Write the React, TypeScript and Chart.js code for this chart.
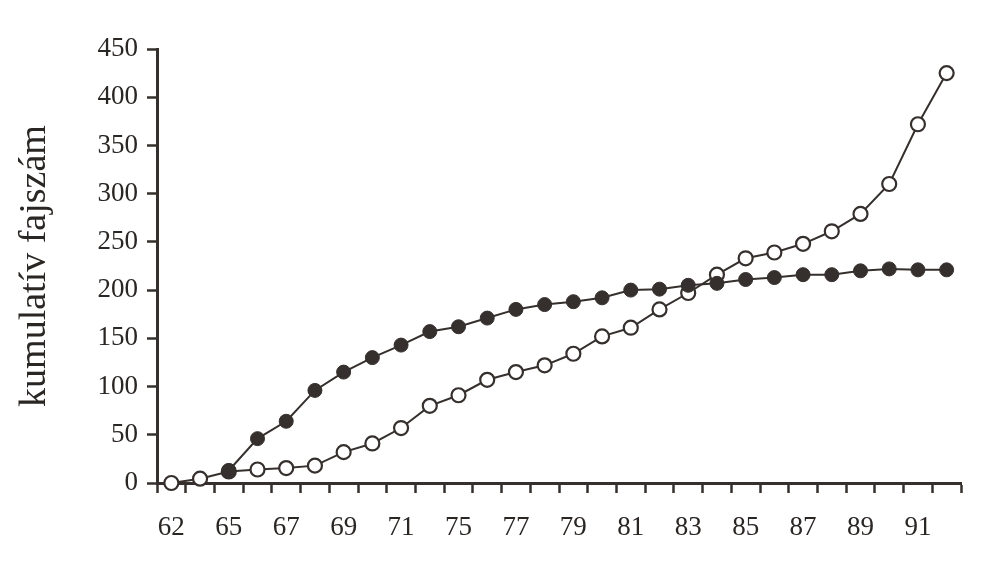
import React, { useEffect, useRef } from "react";
import { Chart, registerables } from "chart.js";

Chart.register(...registerables);

const categories = ["62", "64", "65", "66", "67", "68", "69", "70", "71", "74", "75", "76", "77", "78", "79", "80", "81", "82", "83", "84", "85", "86", "87", "88", "89", "90", "91", "92"];
const filledSeries = [null, null, 13, 46, 64, 96, 115, 130, 143, 157, 162, 171, 180, 185, 188, 192, 200, 201, 205, 207, 211, 213, 216, 216, 220, 222, 221, 221];
const openSeries = [0, 4.5, 12, 14, 15.5, 18, 32, 41, 57, 80, 91, 107, 115, 122, 134, 152, 161, 180, 197, 216, 233, 239, 248, 261, 279, 310, 372, 425];
const yTitle = "kumulatív fajszám";

const INK = "#352f2d";
const TEXT = "#2a2624";
const FONT = "'Liberation Serif', 'DejaVu Serif', serif";

export default function App() {
  const ref = useRef<HTMLCanvasElement | null>(null);

  useEffect(() => {
    document.body.style.margin = "0";
    document.body.style.background = "#ffffff";
    const canvas = ref.current;
    if (!canvas) return;
    const chart = new Chart(canvas, {
      type: "line",
      data: {
        labels: categories,
        datasets: [
          {
            label: "filled",
            data: filledSeries,
            borderColor: INK,
            borderWidth: 2,
            pointRadius: 7,
            pointBackgroundColor: INK,
            pointBorderColor: INK,
            pointBorderWidth: 1,
            tension: 0,
            clip: false,
            spanGaps: false,
          },
          {
            label: "open",
            data: openSeries,
            borderColor: INK,
            borderWidth: 2,
            pointRadius: 7,
            pointBackgroundColor: "#ffffff",
            pointBorderColor: INK,
            pointBorderWidth: 2.2,
            tension: 0,
            clip: false,
          },
        ],
      },
      options: {
        responsive: false,
        animation: false,
        devicePixelRatio: 1,
        layout: { padding: { top: 49, right: 20, left: 0, bottom: 0 } },
        plugins: {
          legend: { display: false },
          tooltip: { enabled: false },
        },
        scales: {
          x: {
            type: "category",
            offset: true,
            border: { display: true, color: INK, width: 3 },
            grid: {
              offset: true,
              drawOnChartArea: false,
              drawTicks: true,
              tickLength: 10,
              tickWidth: 2.5,
              tickColor: INK,
            },
            ticks: {
              autoSkip: false,
              maxRotation: 0,
              minRotation: 0,
              padding: 19,
              color: TEXT,
              font: { family: FONT, size: 27 },
              callback: (_v: any, i: number) => (i % 2 === 0 ? categories[i] : ""),
            },
            afterFit: (scale: any) => {
              scale.height = 86;
            },
          },
          y: {
            min: 0,
            max: 450,
            border: { display: true, color: INK, width: 3 },
            grid: {
              drawOnChartArea: false,
              drawTicks: true,
              tickLength: 10,
              tickWidth: 2.5,
              tickColor: INK,
            },
            ticks: {
              stepSize: 50,
              padding: 9,
              color: TEXT,
              font: { family: FONT, size: 27 },
            },
            title: {
              display: true,
              text: yTitle,
              color: TEXT,
              font: { family: FONT, size: 38 },
              padding: { top: 12, bottom: 0 },
            },
            afterFit: (scale: any) => {
              scale.width = 157;
            },
          },
        },
      },
    });
    return () => chart.destroy();
  }, []);

  return (
    <div style={{ width: 981, height: 569, background: "#fff" }}>
      <canvas ref={ref} width={981} height={569} style={{ display: "block" }} />
    </div>
  );
}
